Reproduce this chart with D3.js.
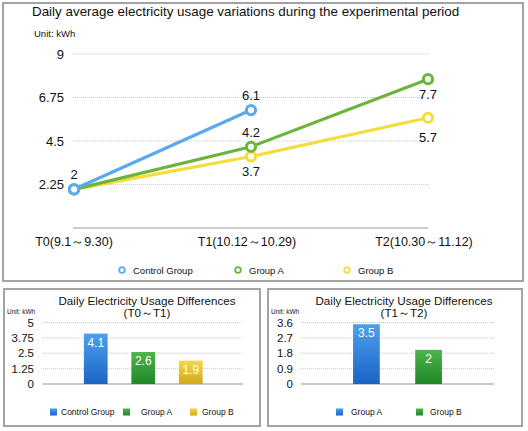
<!DOCTYPE html>
<html><head><meta charset="utf-8">
<script src="https://cdn.jsdelivr.net/npm/d3@7"></script>
<style>
html,body{margin:0;padding:0;background:#fff;}
svg{display:block;font-family:"Liberation Sans",Arial,sans-serif;}
</style></head>
<body>
<svg id="c" width="528" height="431"></svg>
<script>
// ---------- data ----------
const periods = ["T0(9.1～9.30)", "T1(10.12～10.29)", "T2(10.30～11.12)"];
const lineSeries = ["Control Group", "Group A", "Group B"];
const controlValues = [2, 6.1, null];
const groupAValues = [2, 4.2, 7.7];
const groupBValues = [2, 3.7, 5.7];
const lineTicks = [0, 2.25, 4.5, 6.75, 9];
const lineTickLabels = ["", "2.25", "4.5", "6.75", "9"];

const diff1Categories = ["Control Group", "Group A", "Group B"];
const diff1Values = [4.1, 2.6, 1.9];
const diff1Ticks = [0, 1.25, 2.5, 3.75, 5];
const diff1TickLabels = ["0", "1.25", "2.5", "3.75", "5"];

const diff2Categories = ["Group A", "Group B"];
const diff2Values = [3.5, 2];
const diff2Ticks = [0, 0.9, 1.8, 2.7, 3.6];
const diff2TickLabels = ["0", "0.9", "1.8", "2.7", "3.6"];

const lineColors = ["#5aa9ee", "#6cb43c", "#f6dc3a"];

// ---------- setup ----------
const svg = d3.select("#c");
const defs = svg.append("defs");
function grad(id, c1, c2) {
  const g = defs.append("linearGradient").attr("id", id).attr("x1", 0).attr("y1", 0).attr("x2", 0).attr("y2", 1);
  g.append("stop").attr("offset", "0%").attr("stop-color", c1);
  g.append("stop").attr("offset", "100%").attr("stop-color", c2);
}
grad("gBlue", "#4ea0ec", "#1a64c6");
grad("gGreen", "#4fb44c", "#208628");
grad("gYellow", "#f3d84a", "#d2a81c");

// panel borders
const borderColor = "#a3a3a3";
svg.append("rect").attr("x", 3).attr("y", 3).attr("width", 520).attr("height", 278)
  .attr("fill", "none").attr("stroke", borderColor).attr("stroke-width", 2);
svg.append("rect").attr("x", 4).attr("y", 289).attr("width", 256).attr("height", 137)
  .attr("fill", "none").attr("stroke", borderColor).attr("stroke-width", 2);
svg.append("rect").attr("x", 268).attr("y", 289).attr("width", 254).attr("height", 137)
  .attr("fill", "none").attr("stroke", borderColor).attr("stroke-width", 2);

// ---------- top line chart ----------
const topG = svg.append("g");
topG.append("text").attr("x", 32).attr("y", 16).attr("font-size", 13.4).attr("fill", "#111")
  .text("Daily average electricity usage variations during the experimental period");
topG.append("text").attr("x", 34).attr("y", 37).attr("font-size", 9.5).attr("fill", "#111").text("Unit: kWh");

const x = d3.scalePoint().domain(periods).range([74, 428]);
const y = d3.scaleLinear().domain([0, 9]).range([228, 54]);

// grid
topG.append("g").selectAll("line").data(lineTicks.filter(d => d > 0)).join("line")
  .attr("x1", 73).attr("x2", 428).attr("y1", d => y(d)).attr("y2", d => y(d))
  .attr("stroke", "#c8c8c8").attr("stroke-width", 1).attr("stroke-dasharray", "1,1");
topG.append("line").attr("x1", 73).attr("x2", 428).attr("y1", y(0)).attr("y2", y(0))
  .attr("stroke", "#9a9a9a").attr("stroke-width", 1.2);

// y tick labels
topG.append("g").selectAll("text").data(lineTicks.map((t, i) => ({t, l: lineTickLabels[i]})).filter(d => d.l)).join("text")
  .attr("x", 64).attr("y", d => y(d.t) + 4.5).attr("text-anchor", "end")
  .attr("font-size", 13).attr("fill", "#111").text(d => d.l);

// x labels
topG.append("g").selectAll("text").data(periods).join("text")
  .attr("x", (d, i) => x(d) + [0, -4, -4][i]).attr("y", 246).attr("text-anchor", "middle")
  .attr("font-size", 12.5).attr("fill", "#111").text(d => d);

const seriesVals = [controlValues, groupAValues, groupBValues];
const line = d3.line().defined(d => d.v != null).x(d => x(d.p)).y(d => y(d.v));
// draw order: B, A, Control
[2, 1, 0].forEach(si => {
  const pts = periods.map((p, i) => ({p, v: seriesVals[si][i]}));
  topG.append("path").datum(pts).attr("d", line).attr("fill", "none")
    .attr("stroke", lineColors[si]).attr("stroke-width", 3.2).attr("stroke-linejoin", "round");
  topG.append("g").selectAll("circle").data(pts.filter(d => d.v != null)).join("circle")
    .attr("cx", d => x(d.p)).attr("cy", d => y(d.v)).attr("r", 4.6)
    .attr("fill", "#fff").attr("stroke", lineColors[si]).attr("stroke-width", 3);
});

// value labels: [series, index, dy]
const labelSpec = [
  [0, 0, -10], [0, 1, -10],
  [1, 1, -10], [1, 2, +20],
  [2, 1, +20], [2, 2, +24]
];
topG.append("g").selectAll("text").data(labelSpec).join("text")
  .attr("x", d => x(periods[d[1]]))
  .attr("y", d => y(seriesVals[d[0]][d[1]]) + d[2])
  .attr("text-anchor", "middle").attr("font-size", 13).attr("fill", "#111")
  .text(d => seriesVals[d[0]][d[1]]);

// legend
const legX = [122, 238, 347];
lineSeries.forEach((s, i) => {
  topG.append("circle").attr("cx", legX[i]).attr("cy", 270).attr("r", 2.8)
    .attr("fill", "#fff").attr("stroke", lineColors[i]).attr("stroke-width", 1.8);
  topG.append("text").attr("x", legX[i] + 11).attr("y", 273.5).attr("font-size", 9.5).attr("fill", "#111").text(s);
});

// ---------- bar charts ----------
function barChart(opts) {
  const g = svg.append("g");
  g.append("text").attr("x", opts.cx).attr("y", 305).attr("text-anchor", "middle")
    .attr("font-size", 11.6).attr("fill", "#111").text("Daily Electricity Usage Differences");
  g.append("text").attr("x", opts.cx).attr("y", 317).attr("text-anchor", "middle")
    .attr("font-size", 11.6).attr("fill", "#111").text(opts.sub);
  g.append("text").attr("x", opts.unitX).attr("y", 314).attr("font-size", 6.5).attr("fill", "#111").text("Unit: kWh");

  const yb = d3.scaleLinear().domain([0, opts.ticks[opts.ticks.length - 1]]).range([384, 322.5]);
  const xb = d3.scaleBand().domain(opts.cats).range(opts.xRange).paddingInner(opts.pad).paddingOuter(opts.padOuter);

  g.append("g").selectAll("line").data(opts.ticks.filter(d => d > 0)).join("line")
    .attr("x1", opts.gx[0]).attr("x2", opts.gx[1]).attr("y1", d => yb(d)).attr("y2", d => yb(d))
    .attr("stroke", "#c8c8c8").attr("stroke-dasharray", "1,1");
  g.append("line").attr("x1", opts.gx[0]).attr("x2", opts.gx[1]).attr("y1", yb(0)).attr("y2", yb(0))
    .attr("stroke", "#8f8f8f").attr("stroke-width", 1.2);

  g.append("g").selectAll("text").data(opts.ticks.map((t, i) => ({t, l: opts.tickLabels[i]}))).join("text")
    .attr("x", opts.labelX).attr("y", d => yb(d.t) + 4).attr("text-anchor", "end")
    .attr("font-size", 11.5).attr("fill", "#111").text(d => d.l);

  g.append("g").selectAll("rect").data(opts.vals).join("rect")
    .attr("x", (d, i) => xb(opts.cats[i])).attr("width", xb.bandwidth())
    .attr("y", d => yb(d)).attr("height", d => yb(0) - yb(d))
    .attr("fill", (d, i) => opts.fills[i]);
  g.append("g").selectAll("text").data(opts.vals).join("text")
    .attr("x", (d, i) => xb(opts.cats[i]) + xb.bandwidth() / 2).attr("y", d => yb(d) + 13)
    .attr("text-anchor", "middle").attr("font-size", 12).attr("fill", "#fff").text(d => d);

  opts.cats.forEach((c, i) => {
    g.append("rect").attr("x", opts.legX[i]).attr("y", 408.5).attr("width", 7).attr("height", 7).attr("fill", opts.fills[i]);
    g.append("text").attr("x", opts.legTX[i]).attr("y", 415).attr("font-size", 8.5).attr("fill", "#111").text(c);
  });
}

barChart({
  cx: 147, sub: "(T0～T1)", unitX: 7,
  cats: diff1Categories, vals: diff1Values, ticks: diff1Ticks, tickLabels: diff1TickLabels,
  xRange: [72, 214.5], pad: 0.5, padOuter: 0.25,
  gx: [43, 243], labelX: 34,
  fills: ["url(#gBlue)", "url(#gGreen)", "url(#gYellow)"],
  legX: [50, 123, 190], legTX: [61, 141, 202]
});
barChart({
  cx: 404, sub: "(T1～T2)", unitX: 271,
  cats: diff2Categories, vals: diff2Values, ticks: diff2Ticks, tickLabels: diff2TickLabels,
  xRange: [322, 473], pad: 0.57, padOuter: 0.5,
  gx: [301, 494], labelX: 293,
  fills: ["url(#gBlue)", "url(#gGreen)"],
  legX: [336, 416], legTX: [351, 430]
});
</script>
</body></html>
